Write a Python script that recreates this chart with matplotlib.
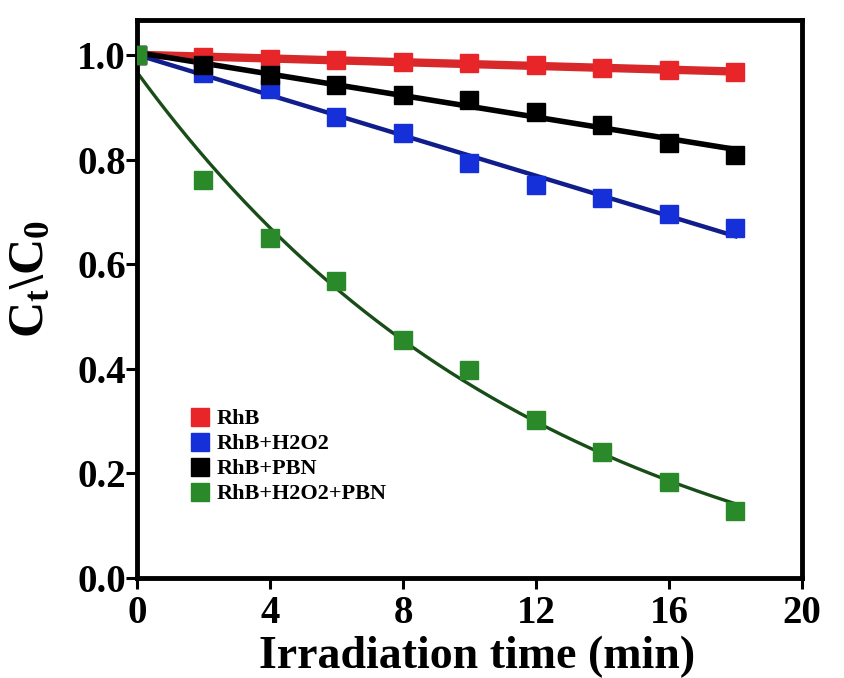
import numpy as np
import matplotlib
matplotlib.use("Agg")
import matplotlib.pyplot as plt

time_min = [0, 2, 4, 6, 8, 10, 12, 14, 16, 18]
rhb = [1.0, 0.997, 0.993, 0.990, 0.986, 0.984, 0.980, 0.976, 0.972, 0.967]
rhb_h2o2 = [1.0, 0.966, 0.935, 0.882, 0.851, 0.793, 0.751, 0.727, 0.696, 0.669]
rhb_pbn = [1.0, 0.980, 0.962, 0.943, 0.924, 0.914, 0.892, 0.866, 0.832, 0.809]
rhb_h2o2_pbn = [1.0, 0.762, 0.650, 0.568, 0.455, 0.397, 0.302, 0.241, 0.183, 0.128]

labels = ["RhB", "RhB+H2O2", "RhB+PBN", "RhB+H2O2+PBN"]
series = [rhb, rhb_h2o2, rhb_pbn, rhb_h2o2_pbn]
colors = ["#e8262a", "#1530d8", "#000000", "#2a8a2a"]
line_colors = ["#d8282a", "#101d8a", "#000000", "#184d18"]
line_widths = [6.0, 3.2, 4.0, 2.4]
fit_kind = ["lin", "lin", "lin", "exp"]

plt.rcParams['font.family'] = ['Liberation Serif', 'DejaVu Serif']
plt.rcParams['font.weight'] = 'bold'
plt.rcParams['mathtext.fontset'] = 'custom'
plt.rcParams['mathtext.rm'] = 'Liberation Serif:bold'
plt.rcParams['mathtext.bf'] = 'Liberation Serif:bold'
plt.rcParams['mathtext.it'] = 'Liberation Serif:bold'


def exp_offset_fit(xv, yv):
    best = None
    for k in np.linspace(0.005, 0.6, 1200):
        A = np.column_stack([np.exp(-k * xv), np.ones_like(xv)])
        coef, res, _, _ = np.linalg.lstsq(A, yv, rcond=None)
        r = np.sum((A @ coef - yv) ** 2)
        if best is None or r < best[0]:
            best = (r, k, coef)
    _, k, (a, c) = best
    return lambda t: a * np.exp(-k * t) + c


fig = plt.figure(figsize=(8.44, 6.78), dpi=100)
ax = fig.add_axes([0.1623, 0.1475, 0.7879, 0.823])

x = np.array(time_min, dtype=float)
xf = np.linspace(0, 18, 300)
for ys, c, lc, lw, kind, lab in zip(series, colors, line_colors, line_widths, fit_kind, labels):
    ys = np.array(ys)
    if kind == "exp":
        f = exp_offset_fit(x, ys)
        yfit = f(xf)
    else:
        p = np.polyfit(x, ys, 1)
        yfit = np.polyval(p, xf)
    ax.plot(xf, yfit, color=lc, lw=lw, zorder=2)
    ax.plot(x, ys, 's', color=c, ms=12.5, mec=c, zorder=3, label=lab, linestyle='none')

ax.set_xlim(0, 20)
ax.set_ylim(0, 1.067)
ax.set_xticks([0, 4, 8, 12, 16, 20])
ax.set_yticks([0.0, 0.2, 0.4, 0.6, 0.8, 1.0])
ax.set_yticklabels(["0.0", "0.2", "0.4", "0.6", "0.8", "1.0"])
ax.tick_params(axis='both', direction='out', length=8, width=2.2, labelsize=28)
ax.tick_params(axis='x', pad=4)
ax.tick_params(axis='y', pad=0)
for lab in ax.get_xticklabels() + ax.get_yticklabels():
    lab.set_fontweight('bold')
for s in ax.spines.values():
    s.set_linewidth(3.5)

ax.set_xlabel("Irradiation time (min)", fontsize=33, fontweight='bold')
ax.xaxis.set_label_coords(0.512, -0.103, transform=ax.transAxes)
ax.xaxis.label.set_va('top')
ax.set_ylabel(r"$\mathrm{C_t\backslash C_0}$", fontsize=36)
ax.yaxis.set_label_coords(-0.125, 0.536)

leg = ax.legend(loc='upper left', bbox_to_anchor=(0.055, 0.335), frameon=False,
                prop={'family': 'Liberation Serif', 'weight': 'bold', 'size': 16},
                handlelength=0.8, handletextpad=0.35, labelspacing=0.2, markerscale=1.0,
                borderpad=0.3)

fig.savefig("out.png", dpi=100)
